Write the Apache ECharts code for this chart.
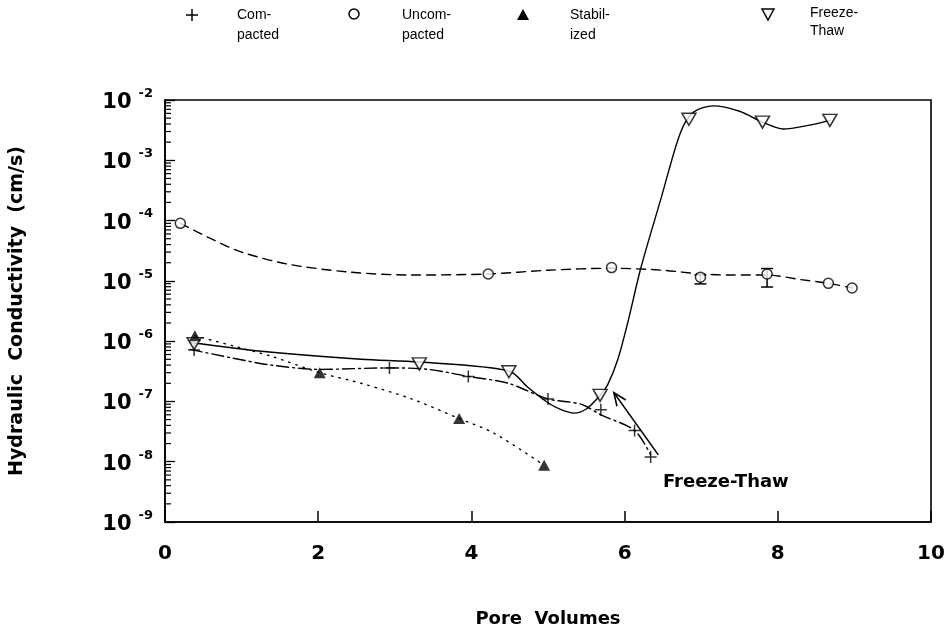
<!DOCTYPE html>
<html><head><meta charset="utf-8">
<script src="https://cdn.jsdelivr.net/npm/echarts@6/dist/echarts.min.js"></script>
<style>html,body{margin:0;padding:0;background:#fff}#chart{width:948px;height:633px}</style>
</head><body><div id="chart"></div>
<script>
// Hydraulic conductivity (cm/s) against pore volumes for four soil treatments
const compactedX = [0.38, 2.93, 3.96, 5.0, 5.69, 6.13, 6.34];
const compactedK = [7.1e-7, 3.6e-7, 2.6e-7, 1.1e-7, 7.3e-8, 3.3e-8, 1.2e-8];
const uncompactedX = [0.2, 4.22, 5.83, 6.99, 7.86, 8.66, 8.97];
const uncompactedK = [9e-5, 1.3e-5, 1.66e-5, 1.15e-5, 1.3e-5, 9.1e-6, 7.6e-6];
const stabilizedX = [0.39, 2.02, 3.84, 4.95];
const stabilizedK = [1.23e-6, 3.0e-7, 5.2e-8, 8.7e-9];
const freezeThawX = [0.38, 3.32, 4.49, 5.68, 6.84, 7.8, 8.68];
const freezeThawK = [9.1e-7, 4.2e-7, 3.1e-7, 1.26e-7, 4.8e-3, 4.3e-3, 4.6e-3];

// error bars on two uncompacted readings
const errX = [6.99, 7.86];
const errLow = [8.9e-6, 7.9e-6];
const errHigh = [1.25e-5, 1.6e-5];

// hand-fitted trend curves
const compactedFitX = [0.33, 0.83, 1.39, 2.02, 2.93, 3.44, 3.96, 4.48, 5.0, 5.43, 5.69, 6.13, 6.34];
const compactedFitK = [7.3e-7, 5.4e-7, 4.0e-7, 3.4e-7, 3.6e-7, 3.4e-7, 2.6e-7, 2.0e-7, 1.1e-7, 9.0e-8, 6.0e-8, 3.3e-8, 1.3e-8];
const uncompactedFitX = [0.2, 0.6, 1.0, 1.6, 2.4, 3.2, 4.22, 5.0, 5.83, 6.5, 6.99, 7.4, 7.86, 8.3, 8.66, 8.97];
const uncompactedFitK = [9e-5, 5e-5, 3e-5, 1.9e-5, 1.4e-5, 1.25e-5, 1.3e-5, 1.5e-5, 1.62e-5, 1.5e-5, 1.3e-5, 1.25e-5, 1.25e-5, 1.05e-5, 9.1e-6, 7.6e-6];
const stabilizedFitX = [0.39, 0.91, 1.39, 2.02, 2.56, 3.22, 3.84, 4.3, 4.95];
const stabilizedFitK = [1.23e-6, 8.2e-7, 5.6e-7, 3.0e-7, 2.0e-7, 1.1e-7, 5.2e-8, 2.95e-8, 8.7e-9];
const freezeThawFitX = [0.33, 1.26, 2.56, 3.32, 4.49, 4.74, 5.0, 5.17, 5.34, 5.5, 5.68, 5.78, 5.91, 6.04, 6.21, 6.47, 6.73, 6.9, 7.16, 7.5, 7.8, 8.07, 8.4, 8.68];
const freezeThawFitK = [9.5e-7, 6.8e-7, 5.0e-7, 4.5e-7, 3.2e-7, 1.7e-7, 9.5e-8, 7.3e-8, 6.4e-8, 7.5e-8, 1.26e-7, 1.9e-7, 4.9e-7, 2e-6, 1.6e-5, 2.2e-4, 2.9e-3, 6.3e-3, 8e-3, 6.5e-3, 4.3e-3, 3.3e-3, 3.8e-3, 4.6e-3];

// annotation arrow (tail, head) and its label anchor
const arrowTail = [6.44, 1.3e-8];
const arrowHead = [5.86, 1.4e-7];
const noteAnchor = [6.5, 4.6e-9];
const noteText = 'Freeze-Thaw';

const legendLabels = ['Com-\npacted', 'Uncom-\npacted', 'Stabil-\nized', 'Freeze-\nThaw'];
const xTickValues = [0, 2, 4, 6, 8, 10];

const zip = (xs, ys) => xs.map((x, i) => [x, ys[i]]);
const minorTicks = [];
for (let e = -9; e < -2; e++) for (let m = 2; m <= 9; m++) minorTicks.push([0, m * Math.pow(10, e)]);

const BOLD = 'DejaVu Sans';
const LEGEND_FONT = '14px "Liberation Sans"';
const chart = echarts.init(document.getElementById('chart'));

const plusPath = 'path://M5,0V10M0,5H10';

function fitLine(name, xs, ys, type, z) {
  return {
    name, type: 'line', data: zip(xs, ys), smooth: 0.3, symbol: 'none', z: z || 2,
    lineStyle: { color: '#000', width: 1.4, type: type, cap: 'round' },
    silent: true, animation: false
  };
}

chart.setOption({
  animation: false,
  backgroundColor: '#fff',
  grid: { left: 163, right: 17, top: 100, bottom: 100, show: true, borderColor: '#000', borderWidth: 1.6 },
  xAxis: {
    type: 'value', min: 0, max: 10, interval: 2,
    name: 'Pore  Volumes', nameLocation: 'middle', nameGap: 88,
    nameTextStyle: { fontFamily: BOLD, fontWeight: 'bold', fontSize: 18, color: '#000' },
    axisLine: { lineStyle: { color: '#000', width: 1.6 } },
    axisTick: { inside: true, length: 11, lineStyle: { color: '#000', width: 1.5 } },
    axisLabel: { margin: 22, fontFamily: BOLD, fontWeight: 'bold', fontSize: 20, color: '#000',
      formatter: v => xTickValues.includes(v) ? String(v) : '' },
    splitLine: { show: false }
  },
  yAxis: {
    type: 'log', logBase: 10, min: 1e-9, max: 1e-2,
    name: 'Hydraulic  Conductivity  (cm/s)', nameLocation: 'middle', nameGap: 138,
    nameTextStyle: { fontFamily: BOLD, fontWeight: 'bold', fontSize: 19, color: '#000' },
    axisLine: { lineStyle: { color: '#000', width: 1.6 } },
    axisTick: { inside: true, length: 10, lineStyle: { color: '#000', width: 1.3 } },
    axisLabel: {
      margin: 12, color: '#000',
      formatter: v => '{b|10}{e|' + Math.round(Math.log10(v)) + '}',
      rich: {
        b: { fontFamily: BOLD, fontWeight: 'bold', fontSize: 21, color: '#000', verticalAlign: 'bottom', lineHeight: 26 },
        e: { fontFamily: BOLD, fontWeight: 'bold', fontSize: 13, color: '#000', verticalAlign: 'top', padding: [0, 0, 9, 7] }
      }
    },
    splitLine: { show: false }
  },
  graphic: [
    { type: 'line', shape: { x1: 186, y1: 15, x2: 198, y2: 15 }, style: { stroke: '#000', lineWidth: 1.5 } },
    { type: 'line', shape: { x1: 192, y1: 9, x2: 192, y2: 21 }, style: { stroke: '#000', lineWidth: 1.5 } },
    { type: 'text', left: 237, top: 5, style: { text: legendLabels[0], font: LEGEND_FONT, lineHeight: 20, fill: '#000' } },
    { type: 'circle', shape: { cx: 354, cy: 14, r: 5 }, style: { fill: '#fff', stroke: '#000', lineWidth: 1.5 } },
    { type: 'text', left: 402, top: 5, style: { text: legendLabels[1], font: LEGEND_FONT, lineHeight: 20, fill: '#000' } },
    { type: 'polygon', shape: { points: [[517, 20], [529, 20], [523, 9]] }, style: { fill: '#000' } },
    { type: 'text', left: 570, top: 5, style: { text: legendLabels[2], font: LEGEND_FONT, lineHeight: 20, fill: '#000' } },
    { type: 'polygon', shape: { points: [[762, 9], [774, 9], [768, 20]] }, style: { fill: '#fff', stroke: '#000', lineWidth: 1.5 } },
    { type: 'text', left: 810, top: 4, style: { text: legendLabels[3], font: LEGEND_FONT, lineHeight: 18, fill: '#000' } }
  ],
  series: [
    // log minor ticks along the left axis
    {
      type: 'custom', silent: true, z: 1, clip: false, data: minorTicks,
      renderItem: (params, api) => {
        const p = api.coord([0, api.value(1)]);
        return { type: 'line', shape: { x1: p[0], y1: p[1], x2: p[0] + 6, y2: p[1] }, style: { stroke: '#000', lineWidth: 1.2 } };
      }
    },
    fitLine('CompactedFit', compactedFitX, compactedFitK, [12, 4, 2, 4]),
    fitLine('UncompactedFit', uncompactedFitX, uncompactedFitK, [9, 6]),
    fitLine('StabilizedFit', stabilizedFitX, stabilizedFitK, [1.5, 6]),
    fitLine('FreezeThawFit', freezeThawFitX, freezeThawFitK, 'solid', 3),
    // error bars
    {
      type: 'custom', silent: true, z: 4, data: errX.map((x, i) => [x, errLow[i], errHigh[i]]),
      renderItem: (params, api) => {
        const lo = api.coord([api.value(0), api.value(1)]);
        const hi = api.coord([api.value(0), api.value(2)]);
        const st = { stroke: '#000', lineWidth: 1.5 };
        return { type: 'group', children: [
          { type: 'line', shape: { x1: lo[0], y1: lo[1], x2: hi[0], y2: hi[1] }, style: st },
          { type: 'line', shape: { x1: lo[0] - 6, y1: lo[1], x2: lo[0] + 6, y2: lo[1] }, style: st },
          { type: 'line', shape: { x1: hi[0] - 6, y1: hi[1], x2: hi[0] + 6, y2: hi[1] }, style: st }
        ] };
      }
    },
    {
      name: 'Compacted', type: 'scatter', z: 5, data: zip(compactedX, compactedK),
      symbol: plusPath, symbolSize: 12,
      itemStyle: { color: 'rgba(0,0,0,0)', borderColor: '#000', borderWidth: 1.5 }
    },
    {
      name: 'Uncompacted', type: 'scatter', z: 5, data: zip(uncompactedX, uncompactedK),
      symbol: 'circle', symbolSize: 10,
      itemStyle: { color: '#fff', borderColor: '#000', borderWidth: 1.5 }
    },
    {
      name: 'Freeze-Thaw', type: 'scatter', z: 5, data: zip(freezeThawX, freezeThawK),
      symbol: 'triangle', symbolRotate: 180, symbolSize: [14, 12],
      itemStyle: { color: '#fff', borderColor: '#000', borderWidth: 1.5 }
    },
    {
      name: 'Stabilized', type: 'scatter', z: 6, data: zip(stabilizedX, stabilizedK),
      symbol: 'triangle', symbolSize: [12, 11],
      itemStyle: { color: '#000' }
    },
    // annotation arrow with its label
    {
      type: 'custom', silent: true, z: 6, clip: false, data: [[0]],
      renderItem: (params, api) => {
        const t = api.coord(arrowTail), h = api.coord(arrowHead), a = api.coord(noteAnchor);
        const ang = Math.atan2(h[1] - t[1], h[0] - t[0]);
        const L = 14, spread = 0.4;
        const p1 = [h[0] - L * Math.cos(ang - spread), h[1] - L * Math.sin(ang - spread)];
        const p2 = [h[0] - L * Math.cos(ang + spread), h[1] - L * Math.sin(ang + spread)];
        const st = { stroke: '#000', lineWidth: 1.6 };
        return { type: 'group', children: [
          { type: 'line', shape: { x1: t[0], y1: t[1], x2: h[0], y2: h[1] }, style: st },
          { type: 'polyline', shape: { points: [p1, h, p2] }, style: Object.assign({ fill: null }, st) },
          { type: 'text', x: a[0], y: a[1], style: { text: noteText, fill: '#000', font: 'bold 18px "DejaVu Sans"', textAlign: 'left', textVerticalAlign: 'middle' } }
        ] };
      }
    }
  ]
});
</script></body></html>
